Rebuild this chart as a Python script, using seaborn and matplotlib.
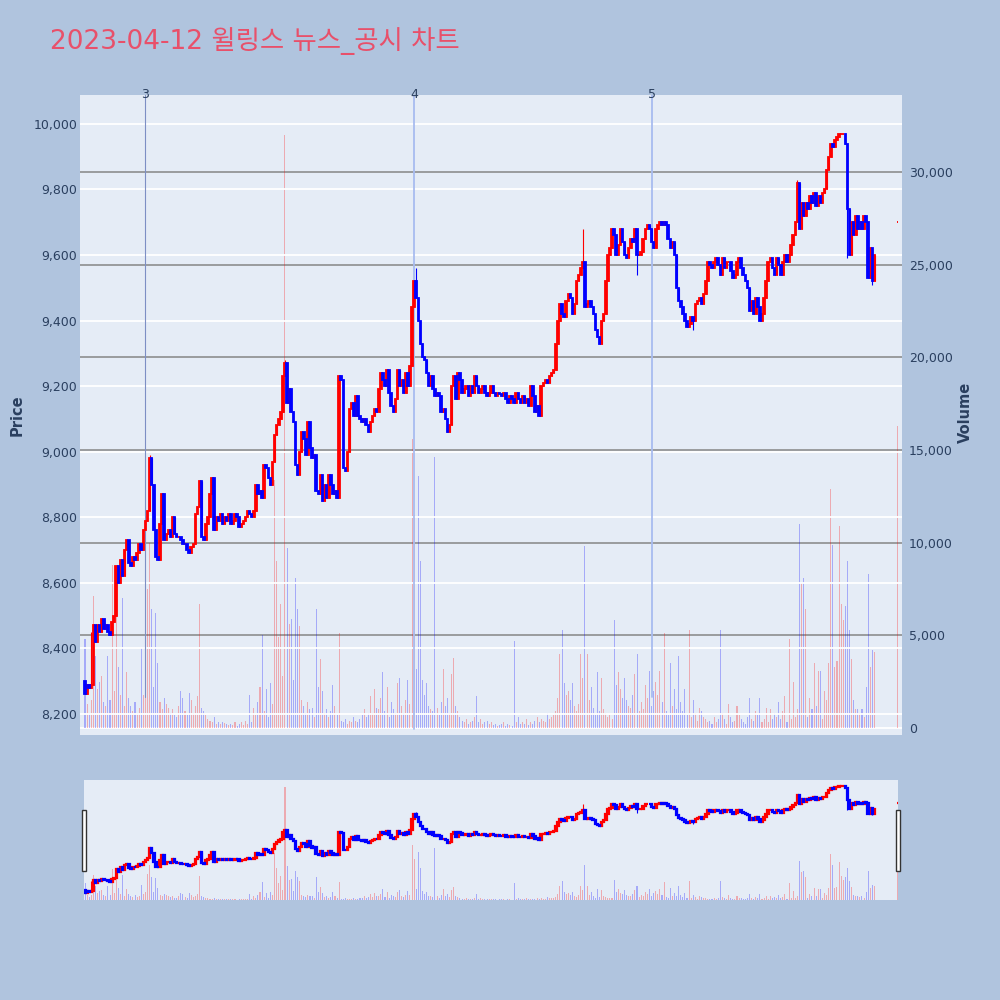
import numpy as np
import pandas as pd
import matplotlib
matplotlib.use('Agg')
import matplotlib.pyplot as plt
import matplotlib.ticker as mticker
import matplotlib.transforms as mtransforms
from matplotlib.patches import Rectangle
import seaborn as sns

# 1-minute candles from 09:00 (minute 0) to 15:19
first_open = 8300
closes = [
    8260, 8290, 8280, 8290, 8470, 8420, 8470, 8450, 8490, 8460,
    8470, 8450, 8440, 8480, 8500, 8650, 8600, 8670, 8620, 8700,
    8730, 8660, 8650, 8680, 8670, 8690, 8720, 8700, 8760, 8790,
    8820, 8980, 8900, 8760, 8680, 8670, 8780, 8870, 8730, 8750,
    8760, 8740, 8800, 8750, 8740, 8740, 8730, 8720, 8720, 8700,
    8690, 8710, 8720, 8810, 8830, 8910, 8740, 8730, 8780, 8800,
    8870, 8920, 8760, 8800, 8790, 8810, 8780, 8800, 8790, 8810,
    8780, 8790, 8810, 8800, 8770, 8780, 8790, 8800, 8820, 8810,
    8800, 8820, 8900, 8870, 8880, 8860, 8960, 8950, 8920, 8900,
    8970, 9050, 9080, 9100, 9120, 9230, 9270, 9150, 9190, 9120,
    9090, 8960, 8930, 9000, 9060, 9040, 8990, 9090, 9010, 8980,
    8990, 8880, 8870, 8930, 8850, 8900, 8860, 8930, 8900, 8870,
    8880, 8860, 9230, 9220, 8950, 8940, 9000, 9130, 9150, 9110,
    9170, 9110, 9100, 9090, 9100, 9080, 9060, 9090, 9110, 9130,
    9120, 9190, 9240, 9220, 9200, 9250, 9180, 9140, 9120, 9160,
    9250, 9200, 9220, 9180, 9240, 9200, 9260, 9440, 9520, 9470,
    9400, 9330, 9290, 9280, 9240, 9200, 9230, 9190, 9170, 9180,
    9170, 9120, 9130, 9100, 9060, 9080, 9200, 9230, 9160, 9240,
    9220, 9180, 9190, 9200, 9170, 9200, 9180, 9230, 9200, 9180,
    9190, 9200, 9180, 9170, 9180, 9200, 9180, 9170, 9180, 9175,
    9170, 9180, 9160, 9150, 9170, 9160, 9150, 9180, 9160, 9150,
    9170, 9150, 9160, 9140, 9200, 9170, 9120, 9140, 9110, 9200,
    9210, 9220, 9210, 9230, 9240, 9250, 9330, 9400, 9450, 9420,
    9410, 9460, 9480, 9470, 9420, 9450, 9520, 9540, 9560, 9580,
    9440, 9450, 9460, 9440, 9420, 9370, 9350, 9330, 9400, 9420,
    9520, 9600, 9620, 9680, 9660, 9600, 9630, 9680, 9640, 9600,
    9590, 9620, 9650, 9640, 9680, 9600, 9600, 9610, 9650, 9680,
    9690, 9680, 9640, 9620, 9680, 9690, 9700, 9690, 9700, 9690,
    9650, 9620, 9640, 9600, 9500, 9460, 9440, 9420, 9400, 9380,
    9390, 9410, 9400, 9450, 9460, 9470, 9450, 9480, 9520, 9580,
    9570, 9560, 9580, 9590, 9570, 9540, 9590, 9560, 9580, 9580,
    9550, 9530, 9540, 9580, 9590, 9560, 9540, 9520, 9500, 9430,
    9460, 9420, 9470, 9440, 9400, 9420, 9470, 9520, 9580, 9590,
    9560, 9540, 9590, 9570, 9540, 9580, 9600, 9580, 9600, 9630,
    9660, 9700, 9820, 9680, 9760, 9720, 9760, 9740, 9780, 9760,
    9790, 9750, 9780, 9760, 9790, 9800, 9860, 9900, 9940, 9930,
    9950, 9960, 9970, 9970, 9970, 9940, 9740, 9600, 9700, 9660,
    9720, 9680, 9700, 9680, 9720, 9700, 9530, 9620, 9520, 9600,
]
wick_high = {3: 8450, 31: 8990, 96: 9280, 159: 9560, 239: 9680, 342: 9830}
wick_low = {265: 9540, 366: 9590, 378: 9510, 292: 9370}

volumes = [
    4800, 1300, 800, 1500, 7100, 3900, 2100, 2500, 2800, 1400,
    1200, 3900, 1500, 8800, 2000, 6400, 3300, 1800, 7000, 1200,
    3000, 1600, 1200, 900, 1400, 800, 1100, 4300, 1800, 2200,
    7500, 10000, 6400, 2200, 6200, 3500, 1400, 1000, 1600, 1300,
    1100, 800, 1000, 700, 600, 1200, 2000, 1600, 900, 700,
    1900, 1500, 800, 1200, 1700, 6700, 1100, 900, 700, 500,
    400, 300, 600, 200, 300, 200, 300, 250, 200, 150,
    200, 150, 300, 100, 200, 300, 150, 400, 200, 1800,
    300, 1100, 700, 1400, 2200, 5000, 900, 2100, 600, 2400,
    1300, 13400, 9000, 4900, 6700, 2800, 32000, 9700, 5600, 5900,
    2600, 8100, 6400, 5500, 1500, 1200, 800, 1400, 1000, 1100,
    600, 6400, 2200, 3700, 2000, 800, 1000, 600, 900, 2300,
    1200, 700, 5100, 400, 300, 500, 200, 400, 300, 600,
    400, 300, 500, 700, 1000, 600, 800, 1700, 800, 2100,
    1100, 1000, 1600, 3000, 900, 2200, 600, 1400, 1000, 800,
    2400, 2700, 1200, 800, 1500, 2600, 1300, 15600, 11500, 3200,
    13600, 9000, 2600, 1800, 2400, 1200, 1000, 900, 14600, 1100,
    700, 1400, 3200, 1200, 1600, 800, 2900, 3800, 1200, 900,
    600, 400, 300, 500, 200, 300, 400, 600, 1700, 300,
    500, 200, 300, 400, 200, 300, 150, 200, 100, 150,
    200, 300, 100, 200, 150, 100, 4700, 300, 600, 200,
    300, 200, 500, 150, 300, 200, 400, 600, 300, 500,
    400, 300, 800, 500, 600, 700, 900, 1600, 4000, 5300,
    2400, 1800, 2000, 1500, 2400, 1200, 900, 1300, 4000, 2700,
    9800, 4000, 1500, 2200, 1100, 700, 3000, 900, 2700, 1000,
    800, 600, 700, 500, 5800, 2300, 3000, 2100, 1600, 2700,
    1500, 1200, 1100, 1800, 2900, 4000, 900, 1400, 1000, 2300,
    1600, 3100, 1200, 2000, 2500, 1800, 3100, 1400, 5100, 900,
    700, 3500, 1200, 2100, 1000, 3900, 1400, 900, 2100, 700,
    5300, 600, 1500, 800, 400, 1100, 900, 600, 500, 300,
    400, 200, 600, 300, 500, 5300, 800, 500, 200, 1300,
    600, 300, 400, 1200, 700, 500, 300, 200, 600, 1600,
    500, 400, 900, 700, 1600, 300, 500, 1100, 300, 1000,
    500, 800, 600, 1400, 500, 900, 1700, 300, 4800, 500,
    2500, 600, 1000, 11000, 7800, 8100, 6400, 600, 1600, 1000,
    3500, 1200, 3100, 3100, 500, 2000, 1500, 3500, 12900, 9900,
    3300, 3600, 10900, 6700, 5800, 6600, 9000, 5300, 3700, 1500,
    1000, 1000, 800, 1000, 600, 2200, 8300, 3300, 4200, 4100,
]

# closing single-price auction at 15:30
auction_minute = 390
auction_price = 9700
auction_volume = 16300

news_minutes = [29, 158, 272]
news_labels = ['3', '4', '5']

price_ticks = list(range(8200, 10001, 200))
volume_ticks = [0, 5000, 10000, 15000, 20000, 25000, 30000]
time_ticks = [0, 60, 120, 180, 240, 300, 360]
time_labels = ['09:00\nApr 12, 2023', '10:00', '11:00', '12:00', '13:00', '14:00', '15:00']

title = '2023-04-12 윌링스 뉴스_공시 차트'

UP = '#ff0000'
DOWN = '#0000ff'
BG = '#b0c4de'
PLOT_BG = '#e5ecf6'
TXT = '#2a3f5f'

# build the frame
opens = [first_open] + closes[:-1]
df = pd.DataFrame({
    'minute': list(range(len(closes))) + [auction_minute],
    'open': opens + [auction_price],
    'close': closes + [auction_price],
    'volume': volumes + [auction_volume],
})
df['high'] = df[['open', 'close']].max(axis=1)
df['low'] = df[['open', 'close']].min(axis=1)
for m, v in wick_high.items():
    df.loc[m, 'high'] = v
for m, v in wick_low.items():
    df.loc[m, 'low'] = v
df['dir'] = np.where(df['close'] >= df['open'], 'up', 'down')

sns.set_theme(style='white')
plt.rcParams['font.family'] = ['DejaVu Sans', 'Noto Sans CJK KR']


def draw_candles(ax, data, body_w, edge_lw, wick_lw):
    for d, col in (('up', UP), ('down', DOWN)):
        sub = data[data['dir'] == d]
        ax.vlines(sub['minute'], sub['low'], sub['high'], color=col, lw=wick_lw, zorder=3)
        ax.bar(sub['minute'], (sub['close'] - sub['open']).abs(),
               bottom=sub[['open', 'close']].min(axis=1), width=body_w,
               color=col, edgecolor=col, linewidth=edge_lw, zorder=4)


def draw_volume(ax, data):
    sns.histplot(data=data, x='minute', weights='volume', hue='dir',
                 palette={'up': UP, 'down': DOWN}, discrete=True, shrink=0.5,
                 alpha=0.28, edgecolor='none', linewidth=0, legend=False, ax=ax)
    ax.set_ylabel('')
    ax.set_xlabel('')


fig = plt.figure(figsize=(10, 10), dpi=100)
fig.patch.set_facecolor(BG)

# main panel: volume axis underneath, price axis on top
vax = fig.add_axes([0.08, 0.265, 0.822, 0.64])
ax = vax.twinx()
vax.set_facecolor(PLOT_BG)
ax.set_zorder(vax.get_zorder() + 1)
ax.patch.set_visible(False)

draw_volume(vax, df)
vax.set_ylim(-380, 34160)
vax.set_yticks(volume_ticks)
vax.yaxis.set_major_formatter(mticker.StrMethodFormatter('{x:,.0f}'))
vax.yaxis.tick_right()
for v in volume_ticks[1:]:
    vax.axhline(v, color='#858585', lw=1.1, zorder=0.5)
vax.axhline(0, color='white', lw=1.3, zorder=0.5)

draw_candles(ax, df, body_w=0.75, edge_lw=1.3, wick_lw=0.8)
ax.set_ylim(8136, 10088)
ax.set_yticks(price_ticks)
ax.yaxis.set_major_formatter(mticker.StrMethodFormatter('{x:,.0f}'))
ax.yaxis.tick_left()
for p in price_ticks:
    ax.axhline(p, color='white', lw=1.3, zorder=0.5)

ax.set_xlim(-2.4, 392.2)
vax.set_xlim(-2.4, 392.2)
vax.set_xticks(time_ticks)
vax.set_xticklabels(time_labels)
ax.set_xticks([])

for a in (ax, vax):
    for s in a.spines.values():
        s.set_visible(False)
    a.tick_params(length=0, labelsize=9, labelcolor=TXT, pad=4)
vax.tick_params(axis='x', pad=6)
vax.tick_params(axis='y', pad=5)
ax.tick_params(axis='y', pad=2)

# news markers
trans = mtransforms.blended_transform_factory(ax.transData, ax.transAxes)
line_styles = [('#7d8fc4', 0.8, 0.06), ('#a8bcf0', 1.3, 0.01), ('#a8bcf0', 1.3, 0.06)]
for m, lab, (c, lw, y0) in zip(news_minutes, news_labels, line_styles):
    ax.axvline(m, ymin=y0, ymax=1, color=c, lw=lw, zorder=2)
    ax.text(m, 1.0, lab, transform=trans, ha='center', va='center',
            fontsize=9, color=TXT)

fig.text(0.01, 0.585, 'Price', rotation=90, ha='left', va='center',
         fontsize=10.5, fontweight='bold', color=TXT)
fig.text(0.958, 0.588, 'Volume', rotation=90, ha='left', va='center',
         fontsize=10.5, fontweight='bold', color=TXT)

fig.text(0.05, 0.959, title, fontsize=19, color='#e8506a', va='center',
         family=['DejaVu Sans', 'Noto Sans CJK KR'])

# range slider
svax = fig.add_axes([0.084, 0.10, 0.814, 0.12])
sax = svax.twinx()
svax.set_facecolor(PLOT_BG)
sax.set_zorder(svax.get_zorder() + 1)
sax.patch.set_visible(False)
draw_volume(svax, df)
svax.set_ylim(0, 34000)
draw_candles(sax, df, body_w=0.75, edge_lw=1.6, wick_lw=0.8)
sax.set_ylim(8148, 10066)
for a in (sax, svax):
    a.set_xlim(-0.5, 390.3)
    a.set_xticks([])
    a.set_yticks([])
    for s in a.spines.values():
        s.set_visible(False)

for hx in (0.0815, 0.8955):
    fig.add_artist(Rectangle((hx, 0.129), 0.004, 0.061, transform=fig.transFigure,
                             facecolor='white', edgecolor='#333333', lw=1))

fig.savefig('out.png', dpi=100, facecolor=BG)
